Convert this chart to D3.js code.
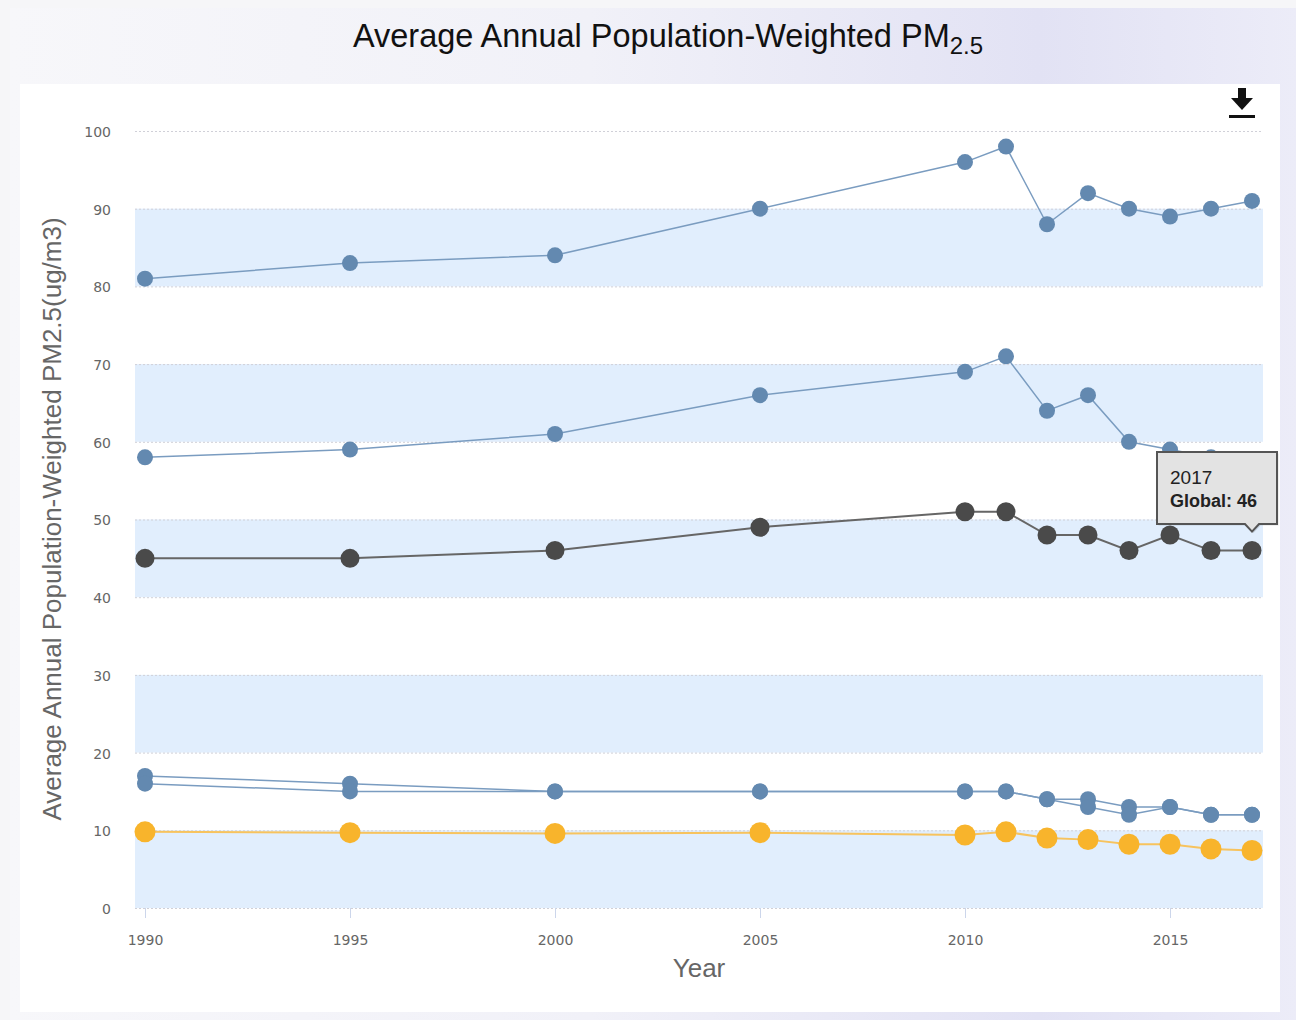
<!DOCTYPE html>
<html lang="en">
<head>
    <meta charset="UTF-8">
    <title>Average Annual Population-Weighted PM2.5</title>
    <script src="https://cdn.jsdelivr.net/npm/d3@7"></script>
    <style>
    html,body{
        margin:0;
        padding:0;
        width:1296px;
        height:1020px;
        overflow:hidden;
        background:#f6f6f8;
    }
    svg{ display:block; font-family:"Liberation Sans", Arial, sans-serif; }
    </style>
</head>
<body>
<script>
    // data
    const years = [1990, 1995, 2000, 2005, 2010, 2011, 2012, 2013, 2014, 2015, 2016, 2017];
    const regionHigh = [81, 83, 84, 90, 96, 98, 88, 92, 90, 89, 90, 91];
    const regionMid = [58, 59, 61, 66, 69, 71, 64, 66, 60, 59, 58, 57];
    const globalVals = [45, 45, 46, 49, 51, 51, 48, 48, 46, 48, 46, 46];
    const regionLowA = [17, 16, 15, 15, 15, 15, 14, 14, 13, 13, 12, 12];
    const regionLowB = [16, 15, 15, 15, 15, 15, 14, 13, 12, 13, 12, 12];
    const guideline = [9.8, 9.7, 9.6, 9.7, 9.4, 9.8, 9.0, 8.8, 8.2, 8.2, 7.6, 7.4];
    const yTicks = [0, 10, 20, 30, 40, 50, 60, 70, 80, 90, 100];
    const xTicks = [1990, 1995, 2000, 2005, 2010, 2015];
    const bands = [[0, 10], [20, 30], [40, 50], [60, 70], [80, 90]];

    const W = 1296, H = 1020;
    const plotL = 135, plotR = 1263;
    const tickFont = "DejaVu Sans, Verdana, sans-serif";

    const svg = d3.select("body").append("svg")
        .attr("width", W).attr("height", H);

    const defs = svg.append("defs");
    let grad = defs.append("linearGradient").attr("id", "bg").attr("x1", 0).attr("x2", 1);
    grad.append("stop").attr("offset", "0%").attr("stop-color", "#f7f7fa");
    grad.append("stop").attr("offset", "45%").attr("stop-color", "#f1f1f8");
    grad.append("stop").attr("offset", "80%").attr("stop-color", "#e2e2f4");
    grad.append("stop").attr("offset", "100%").attr("stop-color", "#ececf8");

    svg.append("rect").attr("x", 0).attr("y", 0).attr("width", W).attr("height", H).attr("fill", "#f6f6f8");
    svg.append("rect").attr("x", 10).attr("y", 8).attr("width", W - 10).attr("height", H - 8).attr("fill", "url(#bg)");
    // white chart panel
    svg.append("rect").attr("x", 20).attr("y", 84).attr("width", 1260).attr("height", 928).attr("fill", "#ffffff");

    // title with subscript
    let title = svg.append("text")
        .attr("x", 668).attr("y", 47)
        .attr("text-anchor", "middle")
        .attr("font-size", 32.5)
        .attr("fill", "#111");
    title.append("tspan").text("Average Annual Population-Weighted PM");
    title.append("tspan").attr("font-size", 24).attr("dy", 7).text("2.5");

    let x = d3.scaleLinear().domain([1990, 2017]).range([145, 1252]);
    let y = d3.scaleLinear().domain([0, 100]).range([908, 131]);

    // alternating bands
    svg.append("g").selectAll("rect").data(bands).join("rect")
        .attr("x", plotL).attr("width", plotR - plotL)
        .attr("y", d => y(d[1])).attr("height", d => y(d[0]) - y(d[1]))
        .attr("fill", "#e1eefd");

    // grid lines
    svg.append("g").selectAll("line").data(yTicks).join("line")
        .attr("x1", plotL).attr("x2", plotR)
        .attr("y1", d => y(d) + 0.5).attr("y2", d => y(d) + 0.5)
        .attr("stroke", "#d0d0d8").attr("stroke-width", 1)
        .attr("stroke-dasharray", "2,2");

    // y axis labels
    let yAxis = d3.axisLeft(y).tickValues(yTicks).tickSize(0).tickPadding(0);
    let yg = svg.append("g").attr("transform", `translate(111,1)`).call(yAxis);
    yg.select(".domain").remove();
    yg.selectAll("text").attr("font-size", 14).attr("fill", "#666").attr("font-family", tickFont);

    // x axis
    let xAxis = d3.axisBottom(x).tickValues(xTicks).tickFormat(d3.format("d")).tickSize(10).tickPadding(17);
    let xg = svg.append("g").attr("transform", `translate(0,908)`).call(xAxis);
    xg.select(".domain").remove();
    xg.selectAll("line").attr("stroke", "#ccd6eb");
    xg.selectAll("text").attr("font-size", 14).attr("fill", "#666").attr("font-family", tickFont);

    svg.append("text")
        .attr("x", 699).attr("y", 977)
        .attr("text-anchor", "middle")
        .attr("font-size", 26).attr("fill", "#666")
        .text("Year");

    svg.append("text")
        .attr("transform", "translate(61,519) rotate(-90)")
        .attr("text-anchor", "middle")
        .attr("font-size", 26).attr("fill", "#666")
        .text("Average Annual Population-Weighted PM2.5(ug/m3)");

    // series
    const series = [
        {vals: regionLowA, line: "#7a9cc0", dot: "#6389b0", r: 8, w: 1.5},
        {vals: regionLowB, line: "#7a9cc0", dot: "#6389b0", r: 8, w: 1.5},
        {vals: guideline, line: "#f7c35e", dot: "#f8b42c", r: 10.5, w: 2},
        {vals: regionHigh, line: "#7a9cc0", dot: "#6389b0", r: 8, w: 1.5},
        {vals: regionMid, line: "#7a9cc0", dot: "#6389b0", r: 8, w: 1.5},
        {vals: globalVals, line: "#666666", dot: "#4a4a4a", r: 9.5, w: 2},
    ];
    let line = d3.line().x((d, i) => x(years[i])).y(d => y(d));
    series.forEach(s => {
        let g = svg.append("g");
        g.append("path").datum(s.vals).attr("d", line)
            .attr("fill", "none").attr("stroke", s.line).attr("stroke-width", s.w);
        g.selectAll("circle").data(s.vals).join("circle")
            .attr("cx", (d, i) => x(years[i])).attr("cy", d => y(d))
            .attr("r", s.r).attr("fill", s.dot);
    });

    // tooltip for Global 2017
    let tipYear = years[years.length - 1], tipVal = globalVals[globalVals.length - 1];
    let tx = x(tipYear), ty = y(tipVal);
    let bx = 1157, by = 452, bw = 120, bh = 72;
    let tip = svg.append("g");
    let tipPath = `M${bx},${by} H${bx + bw} V${by + bh} H${tx + 7} L${tx},${ty - 19} L${tx - 7},${by + bh} H${bx} Z`;
    tip.append("path").attr("d", tipPath)
        .attr("fill", "#000").attr("opacity", 0.12).attr("transform", "translate(1.5,1.5)");
    tip.append("path").attr("d", tipPath)
        .attr("fill", "#e3e3e3").attr("stroke", "#555").attr("stroke-width", 2);
    tip.append("text").attr("x", bx + 13).attr("y", by + 32)
        .attr("font-size", 19).attr("fill", "#222").text(tipYear);
    tip.append("text").attr("x", bx + 13).attr("y", by + 55)
        .attr("font-size", 18).attr("fill", "#222").attr("font-weight", "bold")
        .text("Global: " + tipVal);

    // download icon
    let icon = svg.append("g").attr("transform", "translate(1242,100)");
    icon.append("rect").attr("x", -4).attr("y", -12).attr("width", 8).attr("height", 11).attr("fill", "#111");
    icon.append("path").attr("d", "M-11,-2 H11 L0,10 Z").attr("fill", "#111");
    icon.append("rect").attr("x", -13).attr("y", 15).attr("width", 26).attr("height", 3).attr("fill", "#111");
</script>
</body>
</html>
